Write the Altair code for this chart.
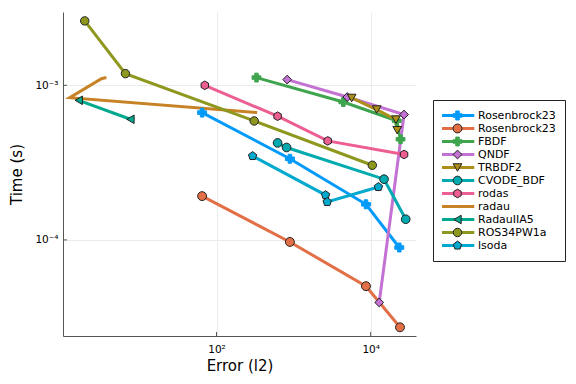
import altair as alt
import pandas as pd

# ---- series definitions ----
names = ["Rosenbrock23", "Rosenbrock23\u200b", "FBDF", "QNDF", "TRBDF2", "CVODE_BDF",
         "rodas", "radau", "RadauIIA5", "ROS34PW1a", "lsoda"]
colors = ["#009AFA", "#E36F47", "#3EA44E", "#C371D2", "#AC8E18", "#00AAAE",
          "#ED5E93", "#C68225", "#00A98D", "#8E971E", "#00A9CD"]

err_rosenbrock23_a = [65, 895, 8690, 23500]
time_rosenbrock23_a = [6.66e-4, 3.35e-4, 1.70e-4, 8.93e-5]
err_rosenbrock23_b = [65, 895, 8690, 24000]
time_rosenbrock23_b = [1.92e-4, 9.7e-5, 5.02e-5, 2.72e-5]
err_fbdf = [330, 4420, 21800, 24400]
time_fbdf = [1.122e-3, 7.8e-4, 5.9e-4, 4.48e-4]
err_qndf = [826, 4970, 27100, 12900]
time_qndf = [1.089e-3, 8.4e-4, 6.47e-4, 3.94e-5]
err_trbdf2 = [5670, 11970, 21300, 22100]
time_trbdf2 = [8.28e-4, 6.97e-4, 6.0e-4, 5.12e-4]
err_cvode = [620, 811, 14900, 28500]
time_cvode = [4.24e-4, 3.96e-4, 2.47e-4, 1.36e-4]
err_rodas = [70.5, 620, 2770, 27100]
time_rodas = [1.0e-3, 6.31e-4, 4.37e-4, 3.57e-4]
err_radau = [3.73, 3.21, 1.245, 337]
time_radau = [1.122e-3, 1.104e-3, 8.32e-4, 6.66e-4]
err_radauiia5 = [1.63, 7.64]
time_radauiia5 = [8.0e-4, 6.03e-4]
err_ros34 = [1.95, 6.58, 308, 10500]
time_ros34 = [2.61e-3, 1.19e-3, 5.88e-4, 3.04e-4]
err_lsoda = [294, 2600, 2730, 12600]
time_lsoda = [3.49e-4, 1.95e-4, 1.76e-4, 2.20e-4]

errs = [err_rosenbrock23_a, err_rosenbrock23_b, err_fbdf, err_qndf, err_trbdf2, err_cvode,
        err_rodas, err_radau, err_radauiia5, err_ros34, err_lsoda]
times = [time_rosenbrock23_a, time_rosenbrock23_b, time_fbdf, time_qndf, time_trbdf2, time_cvode,
         time_rodas, time_radau, time_radauiia5, time_ros34, time_lsoda]

hexagon = "M0,-1L0.866,-0.5L0.866,0.5L0,1L-0.866,0.5L-0.866,-0.5Z"
pentagon = "M0,-1.05L1,-0.32L0.62,0.85L-0.62,0.85L-1,-0.32Z"
shapes = ["cross", "circle", "cross", "diamond", "triangle-down", "circle",
          hexagon, "M0,0", "triangle-left", "circle", pentagon]
strokes = [colors[0], "#222222", colors[2], "#222222", "#222222", "#222222",
           "#222222", "rgba(0,0,0,0)", "#222222", "#222222", "#222222"]
sizes = [80, 70, 80, 50, 70, 70, 70, 1, 36, 70, 70]
has_marker = [True, True, True, True, True, True, True, False, True, True, True]

x_tick_values = [100, 10000]
x_tick_labels = ["10²", "10⁴"]
y_tick_values = [1e-4, 1e-3]
y_tick_labels = ["10⁻⁴", "10⁻³"]

rows = []
for n, e, t in zip(names, errs, times):
    for i, (a, b) in enumerate(zip(e, t)):
        rows.append({"key": n, "err": a, "time": b, "i": i})
df = pd.DataFrame(rows)
df_pts = df[df["key"].isin([n for n, m in zip(names, has_marker) if m])]


def label_expr(vals, labs):
    expr = "''"
    for v, l in zip(vals, labs):
        expr = f"abs(datum.value - {v}) < {v}*0.01 ? '{l}' : ({expr})"
    return expr


W, H = 353, 324
xs = alt.Scale(type="log", domain=[1.019, 38730], nice=False)
ys = alt.Scale(type="log", domain=[2.39e-5, 2.98e-3], nice=False)
FONT = "DejaVu Sans"

x_axis = alt.Axis(values=x_tick_values, labelExpr=label_expr(x_tick_values, x_tick_labels),
                  title="Error (l2)", grid=True, ticks=False, labelPadding=8, titlePadding=4)
y_axis = alt.Axis(values=y_tick_values, labelExpr=label_expr(y_tick_values, y_tick_labels),
                  title="Time (s)", grid=True, ticks=False, labelPadding=5, titlePadding=10)

LX, LY = 370, 88
PAD = 9
legend_lines = alt.Legend(title=None, orient="none", legendX=LX, legendY=LY,
                          symbolType="M-4.45,0H4.45", symbolSize=64, symbolStrokeWidth=3,
                          labelFont=FONT, labelFontSize=11, labelOffset=16, symbolOffset=9,
                          padding=PAD, rowPadding=0, clipHeight=13,
                          strokeColor="#222222", labelColor="black")
legend_marks = alt.Legend(title=None, orient="none", legendX=LX, legendY=LY,
                          symbolSize=64, symbolStrokeWidth=1,
                          labelFont=FONT, labelFontSize=11, labelOffset=16, symbolOffset=10,
                          padding=PAD, rowPadding=0, clipHeight=13,
                          labelOpacity=0, symbolOpacity=1, labelExpr="'\u200b'")

lines = alt.Chart(df).mark_line(strokeWidth=3).encode(
    x=alt.X("err:Q", scale=xs, axis=x_axis),
    y=alt.Y("time:Q", scale=ys, axis=y_axis),
    color=alt.Color("key:N", scale=alt.Scale(domain=names, range=colors), legend=legend_lines),
    order=alt.Order("i:Q"),
)

points = alt.Chart(df_pts).mark_point(filled=True, opacity=1, strokeWidth=1).encode(
    x=alt.X("err:Q", scale=xs, axis=x_axis),
    y=alt.Y("time:Q", scale=ys, axis=y_axis),
    color=alt.Color("key:N", scale=alt.Scale(domain=names, range=colors), legend=legend_marks),
    shape=alt.Shape("key:N", scale=alt.Scale(domain=names, range=shapes), legend=legend_marks),
    stroke=alt.Stroke("key:N", scale=alt.Scale(domain=names, range=strokes), legend=legend_marks),
    size=alt.Size("key:N", scale=alt.Scale(domain=names, range=sizes), legend=None),
)

xt = pd.DataFrame({"err": x_tick_values})
yt = pd.DataFrame({"time": y_tick_values})
xticks = alt.Chart(xt).mark_rule(color="#555555", strokeWidth=1).encode(
    x=alt.X("err:Q", scale=xs, axis=x_axis), y=alt.value(H), y2=alt.value(H - 4))
yticks = alt.Chart(yt).mark_rule(color="#555555", strokeWidth=1).encode(
    y=alt.Y("time:Q", scale=ys, axis=y_axis), x=alt.value(0), x2=alt.value(4))

chart = alt.layer(lines, points, xticks, yticks).resolve_scale(
    color="independent", shape="independent", stroke="independent", size="independent"
).properties(
    width=W, height=H,
    autosize=alt.AutoSizeParams(type="none"),
    padding={"left": 55, "top": 4, "right": 150, "bottom": 38},
).configure(font=FONT).configure_view(stroke=None).configure_axis(
    domainColor="#555555", domainWidth=1, gridColor="#ebebeb", gridWidth=1,
    labelFont=FONT, labelFontSize=10.5, labelColor="black",
    titleFont=FONT, titleFontSize=15, titleFontWeight="normal", titleColor="black",
)

chart.save("out.html", embed_options={"renderer": "svg", "actions": False})
